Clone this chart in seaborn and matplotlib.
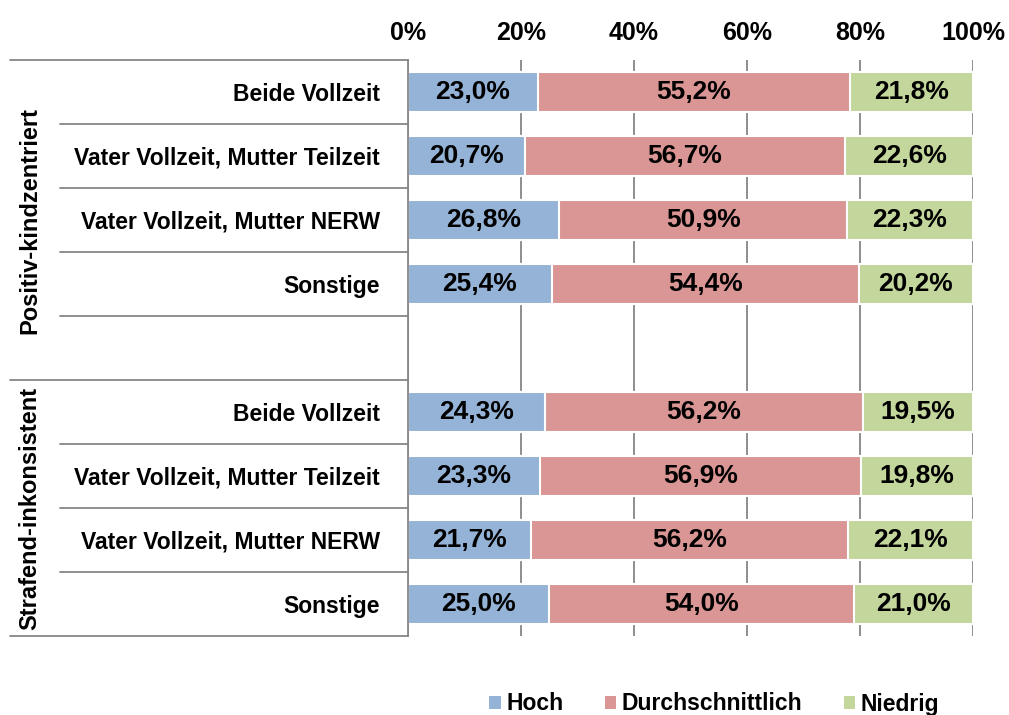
import matplotlib
matplotlib.use("Agg")
import matplotlib.pyplot as plt
import seaborn as sns
import pandas as pd
import numpy as np
from matplotlib.patches import Patch

# data
rows = ["Beide Vollzeit", "Vater Vollzeit, Mutter Teilzeit", "Vater Vollzeit, Mutter NERW", "Sonstige", "",
        "Beide Vollzeit", "Vater Vollzeit, Mutter Teilzeit", "Vater Vollzeit, Mutter NERW", "Sonstige"]
hoch = [23.0, 20.7, 26.8, 25.4, np.nan, 24.3, 23.3, 21.7, 25.0]
durch = [55.2, 56.7, 50.9, 54.4, np.nan, 56.2, 56.9, 56.2, 54.0]
niedrig = [21.8, 22.6, 22.3, 20.2, np.nan, 19.5, 19.8, 22.1, 21.0]
groups = ["Positiv-kindzentriert", "Strafend-inkonsistent"]
series = ["Hoch", "Durchschnittlich", "Niedrig"]
colors = ["#95B3D7", "#D99694", "#C3D69B"]

sns.set_style("white")
plt.rcParams['font.family'] = ['Liberation Sans', 'DejaVu Sans']
plt.rcParams['text.color'] = 'black'
plt.rcParams['xtick.color'] = 'black'
plt.rcParams['ytick.color'] = 'black'

df = pd.DataFrame({"row": [f"r{i}" for i in range(len(rows))], "hoch": hoch, "durch": durch, "niedrig": niedrig})
df["c1"] = df["hoch"]
df["c2"] = df["hoch"] + df["durch"]
df["c3"] = df["c2"] + df["niedrig"]

fig = plt.figure(figsize=(10.09, 7.15), dpi=100)
ax = fig.add_axes([408 / 1009, 1 - 636 / 715, 565 / 1009, 576 / 715])

for col, c in zip(["c3", "c2", "c1"], colors[::-1]):
    sns.barplot(data=df, x=col, y="row", color=c, orient="h", width=0.62,
                edgecolor="white", linewidth=1.5, saturation=1, ax=ax)

for i in range(len(df)):
    if np.isnan(hoch[i]):
        continue
    starts = [0, df["c1"][i], df["c2"][i]]
    for s, v in zip(starts, [hoch[i], durch[i], niedrig[i]]):
        ax.text(s + v / 2, i, f"{v:.1f}%".replace(".", ","), ha="center", va="center",
                fontsize=19, fontweight="bold", color="black")

ax.set_xlim(0, 100)
ax.set_ylim(len(rows) - 0.5, -0.5)
ax.set_xticks(range(0, 101, 20))
ax.set_xticklabels([f"{t}%" for t in range(0, 101, 20)], fontsize=18, fontweight="bold")
ax.xaxis.tick_top()
ax.tick_params(axis="x", length=0, pad=11)
ax.set_yticks(range(len(rows)))
ax.set_yticklabels(rows, fontsize=16.5, fontweight="bold")
ax.tick_params(axis="y", length=0, pad=20)
ax.set_xlabel("")
ax.set_ylabel("")
ax.grid(axis="x", color="#868686", linewidth=1.3)
ax.set_axisbelow(True)
for s in ["top", "right", "bottom"]:
    ax.spines[s].set_visible(False)
ax.spines["left"].set_color("#868686")
ax.spines["left"].set_linewidth(1.3)

# separator lines on the left
ax_left = 408 / 1009
ax_w = 565 / 1009
for k in range(len(rows) + 1):
    y = k - 0.5
    x0 = 10 / 1009 if k in (0, 5, 9) else 60 / 1009
    ax.plot([(x0 - ax_left) / ax_w, 0], [y, y], transform=ax.get_yaxis_transform(),
            color="#868686", linewidth=1.3, clip_on=False)

gx = (30 / 1009 - ax_left) / ax_w
ax.text(gx, 2.0, groups[0], rotation=90, ha="center", va="center",
        fontsize=17, fontweight="bold", transform=ax.get_yaxis_transform())
ax.text(gx, 6.5, groups[1], rotation=90, ha="center", va="center",
        fontsize=17, fontweight="bold", transform=ax.get_yaxis_transform())

handles = [Patch(facecolor=c, edgecolor="none") for c in colors]
fig.legend(handles, series, loc="center", bbox_to_anchor=(0.708, 1 - 704 / 715), ncol=3, frameon=False,
           prop={"size": 16.5, "weight": "bold"}, handlelength=0.5, handleheight=0.5,
           handletextpad=0.25, columnspacing=1.8)

fig.savefig("out.png", dpi=100)
